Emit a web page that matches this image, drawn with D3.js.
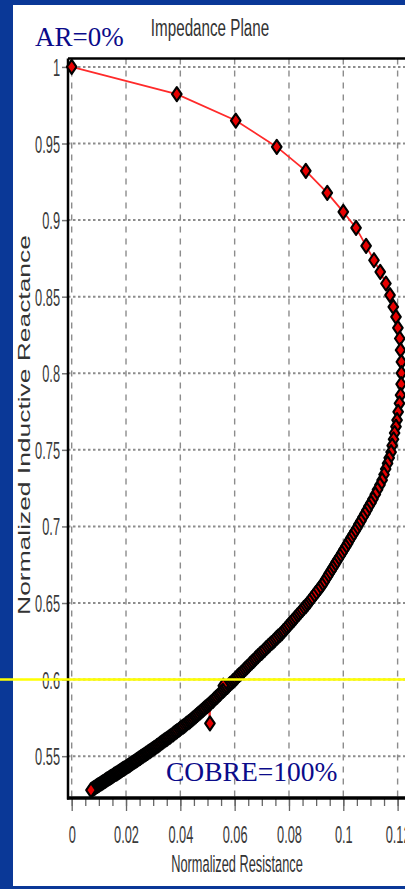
<!DOCTYPE html>
<html>
<head>
<meta charset="utf-8">
<script src="https://cdn.jsdelivr.net/npm/d3@7"></script>
<style>
  html, body { margin: 0; padding: 0; background: #ffffff; }
  svg { display: block; }
</style>
</head>
<body>
<svg id="chart" width="405" height="889"></svg>
<script>
// Impedance-plane trajectory: normalized resistance vs normalized inductive reactance
const resistance = [
  // sparse start of the trajectory
  0, 0.0387, 0.0604, 0.0755, 0.0862, 0.0941, 0.1000, 0.1047, 0.1084, 0.1113,
  0.1136, 0.1157, 0.1172, 0.1184, 0.1194, 0.1201, 0.1208, 0.1211, 0.1214, 0.1214,
  // turning region
  0.1213, 0.1211, 0.1207, 0.1202, 0.1198,
  0.1194, 0.1189, 0.1185, 0.1180, 0.1176, 0.1169, 0.1163, 0.1156, 0.1150, 0.1143,
  0.1135, 0.1126, 0.1118, 0.1109,
  0.1102, 0.1094, 0.1087, 0.1080, 0.1072, 0.1065, 0.1057, 0.1050,
  0.1043, 0.1036, 0.1029, 0.1022, 0.1016, 0.1009, 0.1002, 0.0995, 0.0988, 0.0981,
  0.0974, 0.0968, 0.0961, 0.0955, 0.0948, 0.0942, 0.0935, 0.0929, 0.0922,
  0.0914, 0.0907, 0.0899, 0.0891, 0.0883, 0.0876, 0.0868,
  // dense tail
  0.0862, 0.0855, 0.0849, 0.0843, 0.0837, 0.0830, 0.0824, 0.0818, 0.0812, 0.0805,
  0.0799, 0.0793, 0.0787, 0.0780, 0.0774,
  0.0768, 0.0761, 0.0755, 0.0749, 0.0743, 0.0736, 0.0730, 0.0724, 0.0717, 0.0711,
  0.0705, 0.0699, 0.0692, 0.0686,
  0.0680, 0.0675, 0.0669, 0.0663, 0.0657, 0.0652, 0.0646, 0.0640, 0.0634, 0.0629,
  0.0623, 0.0617, 0.0611, 0.0606, 0.0600, 0.0594,
  0.0589, 0.0583, 0.0578, 0.0573, 0.0567, 0.0562, 0.0558, 0.0557, 0.0551, 0.0546,
  0.0541, 0.0536, 0.0530, 0.0525, 0.0520, 0.0514, 0.0509, 0.0509,
  0.0504, 0.0499, 0.0493, 0.0488, 0.0483, 0.0478, 0.0473, 0.0467, 0.0462, 0.0457,
  0.0452, 0.0446, 0.0441, 0.0436,
  0.0431, 0.0425, 0.0420, 0.0415, 0.0410, 0.0404, 0.0399, 0.0394, 0.0388, 0.0383,
  0.0378, 0.0373, 0.0367, 0.0362,
  0.0357, 0.0352, 0.0347, 0.0342, 0.0337, 0.0332, 0.0327, 0.0323, 0.0318, 0.0313,
  0.0308, 0.0303, 0.0298, 0.0293, 0.0288,
  0.0283, 0.0279, 0.0274, 0.0270, 0.0265, 0.0261, 0.0256, 0.0252, 0.0247, 0.0242,
  0.0238, 0.0233, 0.0229, 0.0224, 0.0220, 0.0215,
  0.0211, 0.0207, 0.0203, 0.0199, 0.0194, 0.0190, 0.0186, 0.0182, 0.0178, 0.0174,
  0.0170, 0.0166, 0.0162, 0.0157, 0.0153, 0.0149, 0.0145, 0.0141,
  0.0137, 0.0133, 0.0129, 0.0125, 0.0122, 0.0118, 0.0114, 0.0110, 0.0106, 0.0102,
  0.0098, 0.0094, 0.0090, 0.0087, 0.0083, 0.0079, 0.0075, 0.0071
];
const reactance = [
  1.0000, 0.9822, 0.9650, 0.9478, 0.9321, 0.9178, 0.9054, 0.8949, 0.8832, 0.8738,
  0.8662, 0.8586, 0.8510, 0.8433, 0.8368, 0.8296, 0.8227, 0.8151, 0.8074, 0.8001,
  0.7929, 0.7857, 0.7803, 0.7748, 0.7694,
  0.7652, 0.7610, 0.7569, 0.7527, 0.7485, 0.7448, 0.7412, 0.7375, 0.7339, 0.7302,
  0.7271, 0.7240, 0.7209, 0.7178,
  0.7154, 0.7131, 0.7107, 0.7084, 0.7060, 0.7036, 0.7013, 0.6989,
  0.6969, 0.6949, 0.6928, 0.6908, 0.6888, 0.6868, 0.6848, 0.6827, 0.6807, 0.6787,
  0.6768, 0.6749, 0.6730, 0.6711, 0.6693, 0.6674, 0.6655, 0.6636, 0.6617,
  0.6599, 0.6582, 0.6564, 0.6546, 0.6528, 0.6511, 0.6493,
  0.6480, 0.6468, 0.6455, 0.6443, 0.6430, 0.6417, 0.6405, 0.6392, 0.6380, 0.6367,
  0.6354, 0.6342, 0.6329, 0.6317, 0.6304,
  0.6293, 0.6282, 0.6272, 0.6261, 0.6250, 0.6239, 0.6229, 0.6218, 0.6207, 0.6196,
  0.6185, 0.6175, 0.6164, 0.6153,
  0.6143, 0.6133, 0.6122, 0.6112, 0.6102, 0.6092, 0.6082, 0.6072, 0.6061, 0.6051,
  0.6041, 0.6031, 0.6021, 0.6010, 0.6000, 0.5990,
  0.5981, 0.5972, 0.5962, 0.5953, 0.5944, 0.5935, 0.5960, 0.5926, 0.5917, 0.5907,
  0.5898, 0.5889, 0.5880, 0.5871, 0.5861, 0.5852, 0.5843, 0.5714,
  0.5835, 0.5827, 0.5819, 0.5810, 0.5802, 0.5794, 0.5786, 0.5778, 0.5770, 0.5762,
  0.5753, 0.5745, 0.5737, 0.5729,
  0.5722, 0.5715, 0.5707, 0.5700, 0.5693, 0.5686, 0.5679, 0.5671, 0.5664, 0.5657,
  0.5650, 0.5642, 0.5635, 0.5628,
  0.5622, 0.5615, 0.5609, 0.5603, 0.5596, 0.5590, 0.5584, 0.5577, 0.5571, 0.5565,
  0.5558, 0.5552, 0.5546, 0.5539, 0.5533,
  0.5528, 0.5522, 0.5517, 0.5511, 0.5506, 0.5500, 0.5495, 0.5489, 0.5484, 0.5478,
  0.5473, 0.5467, 0.5462, 0.5456, 0.5451, 0.5445,
  0.5440, 0.5436, 0.5431, 0.5426, 0.5421, 0.5417, 0.5412, 0.5407, 0.5403, 0.5398,
  0.5393, 0.5388, 0.5384, 0.5379, 0.5374, 0.5369, 0.5365, 0.5360,
  0.5356, 0.5351, 0.5347, 0.5342, 0.5338, 0.5333, 0.5329, 0.5324, 0.5320, 0.5315,
  0.5311, 0.5306, 0.5302, 0.5297, 0.5293, 0.5288, 0.5284, 0.5279
];

const xTickValues = [0, 0.02, 0.04, 0.06, 0.08, 0.1, 0.12];
const xTickLabels = ["0", "0.02", "0.04", "0.06", "0.08", "0.1", "0.12"];
const yTickValues = [0.55, 0.6, 0.65, 0.7, 0.75, 0.8, 0.85, 0.9, 0.95, 1];
const yTickLabels = ["0.55", "0.6", "0.65", "0.7", "0.75", "0.8", "0.85", "0.9", "0.95", "1"];
const referenceLevel = 0.6;          // yellow reference line
const startLabel = "AR=0%";
const endLabel = "COBRE=100%";

const points = resistance.map((r, i) => ({ r, x: reactance[i] }));

const W = 405, H = 889;
const svg = d3.select("#chart");

// slide frame
svg.append("rect").attr("width", W).attr("height", H).attr("fill", "#0a3897");
svg.append("rect").attr("x", 13).attr("y", 5).attr("width", W - 13).attr("height", 881).attr("fill", "#ffffff");

// plot box
const plot = { left: 68, top: 58.5, bottom: 798 };
const x = d3.scaleLinear().domain([-0.00136, 0.15]).range([plot.left, plot.left + 0.15136 * 2716]);
const y = d3.scaleLinear().domain([0.5227, 1.0055]).range([plot.bottom, plot.top]);

const labelFont = "'Liberation Sans', Arial, sans-serif";

// grid
const grid = svg.append("g");
grid.selectAll("line.v").data(xTickValues.concat([0.14])).join("line")
  .attr("x1", d => x(d)).attr("x2", d => x(d))
  .attr("y1", plot.top).attr("y2", plot.bottom)
  .attr("stroke", "#8c8c8c").attr("stroke-width", 1.4)
  .attr("stroke-dasharray", "6,6");
grid.selectAll("line.h").data(yTickValues).join("line")
  .attr("x1", plot.left).attr("x2", W)
  .attr("y1", d => y(d)).attr("y2", d => y(d))
  .attr("stroke", "#8c8c8c").attr("stroke-width", 2)
  .attr("stroke-dasharray", "2.5,2.5");

// x axis: minor and major ticks
const minorTicks = d3.range(0, 0.1451, 0.005);
svg.append("g").attr("transform", `translate(0,${plot.bottom})`)
  .call(d3.axisBottom(x).tickValues(minorTicks).tickSize(8).tickFormat(""))
  .call(g => g.select(".domain").remove())
  .call(g => g.selectAll("line").attr("stroke", "#666").attr("stroke-width", 1.3));
const xAxis = svg.append("g").attr("transform", `translate(0,${plot.bottom})`)
  .call(d3.axisBottom(x).tickValues(xTickValues).tickSize(13)
    .tickFormat((d, i) => xTickLabels[i]))
  .call(g => g.select(".domain").remove());
xAxis.selectAll("line").attr("stroke", "#666").attr("stroke-width", 1.3);
xAxis.selectAll("text")
  .attr("y", 0).attr("dy", null)
  .attr("transform", "translate(0,45) scale(1,1.9)")
  .attr("font-family", labelFont).attr("font-size", 12.8).attr("fill", "#3a3a3a");

// y axis
const yAxis = svg.append("g").attr("transform", `translate(${plot.left},0)`)
  .call(d3.axisLeft(y).tickValues(yTickValues).tickSize(6).tickPadding(2)
    .tickFormat((d, i) => yTickLabels[i]))
  .call(g => g.select(".domain").remove());
yAxis.selectAll("line").attr("stroke", "#777").attr("stroke-width", 1.5);
yAxis.selectAll(".tick text")
  .attr("x", -8).attr("dy", "0.36em")
  .attr("transform", "scale(1,1.85)")
  .attr("font-family", labelFont).attr("font-size", 12.8).attr("fill", "#3a3a3a");

// frame lines
svg.append("line").attr("x1", plot.left).attr("x2", plot.left)
  .attr("y1", plot.top).attr("y2", plot.bottom + 1.5)
  .attr("stroke", "#000").attr("stroke-width", 2.5);
svg.append("line").attr("x1", plot.left).attr("x2", W)
  .attr("y1", plot.top).attr("y2", plot.top)
  .attr("stroke", "#000").attr("stroke-width", 2.5);
svg.append("line").attr("x1", plot.left - 1).attr("x2", W)
  .attr("y1", plot.bottom).attr("y2", plot.bottom)
  .attr("stroke", "#000").attr("stroke-width", 3.5);

// trajectory line and markers
svg.append("path").datum(points)
  .attr("fill", "none").attr("stroke", "#ff2a2a").attr("stroke-width", 1.8)
  .attr("d", d3.line().x(d => x(d.r)).y(d => y(d.x)));
const diamond = "M0,-7L4.8,0L0,7L-4.8,0Z";
svg.append("g").selectAll("path").data(points).join("path")
  .attr("d", diamond)
  .attr("transform", d => `translate(${x(d.r)},${y(d.x)})`)
  .attr("fill", "#e60000").attr("stroke", "#000").attr("stroke-width", 2.1)
  .attr("stroke-linejoin", "round");

// reference line
svg.append("line").attr("x1", 0).attr("x2", W)
  .attr("y1", y(referenceLevel)).attr("y2", y(referenceLevel))
  .attr("stroke", "#ffff00").attr("stroke-width", 2.5);

// title and axis labels
svg.append("text").attr("transform", "translate(210,36) scale(1,1.63)")
  .attr("text-anchor", "middle").attr("font-family", labelFont).attr("font-size", 15.2)
  .attr("fill", "#333").text("Impedance Plane");
svg.append("text").attr("transform", "translate(237,871.5) scale(1,1.82)")
  .attr("text-anchor", "middle").attr("font-family", labelFont).attr("font-size", 12.8)
  .attr("fill", "#333").text("Normalized Resistance");
svg.append("text").attr("transform", "translate(30,425) rotate(-90) scale(1.65,1)")
  .attr("text-anchor", "middle").attr("font-family", labelFont).attr("font-size", 16)
  .attr("fill", "#333").text("Normalized Inductive Reactance");

// annotations
const serif = "'Liberation Serif', 'Times New Roman', serif";
svg.append("text").attr("x", 35).attr("y", 45.7)
  .attr("font-family", serif).attr("font-size", 27).attr("fill", "#0b0b8a").text(startLabel);
svg.append("text").attr("x", 166).attr("y", 781)
  .attr("font-family", serif).attr("font-size", 27.5).attr("fill", "#0b0b8a").text(endLabel);
</script>
</body>
</html>
